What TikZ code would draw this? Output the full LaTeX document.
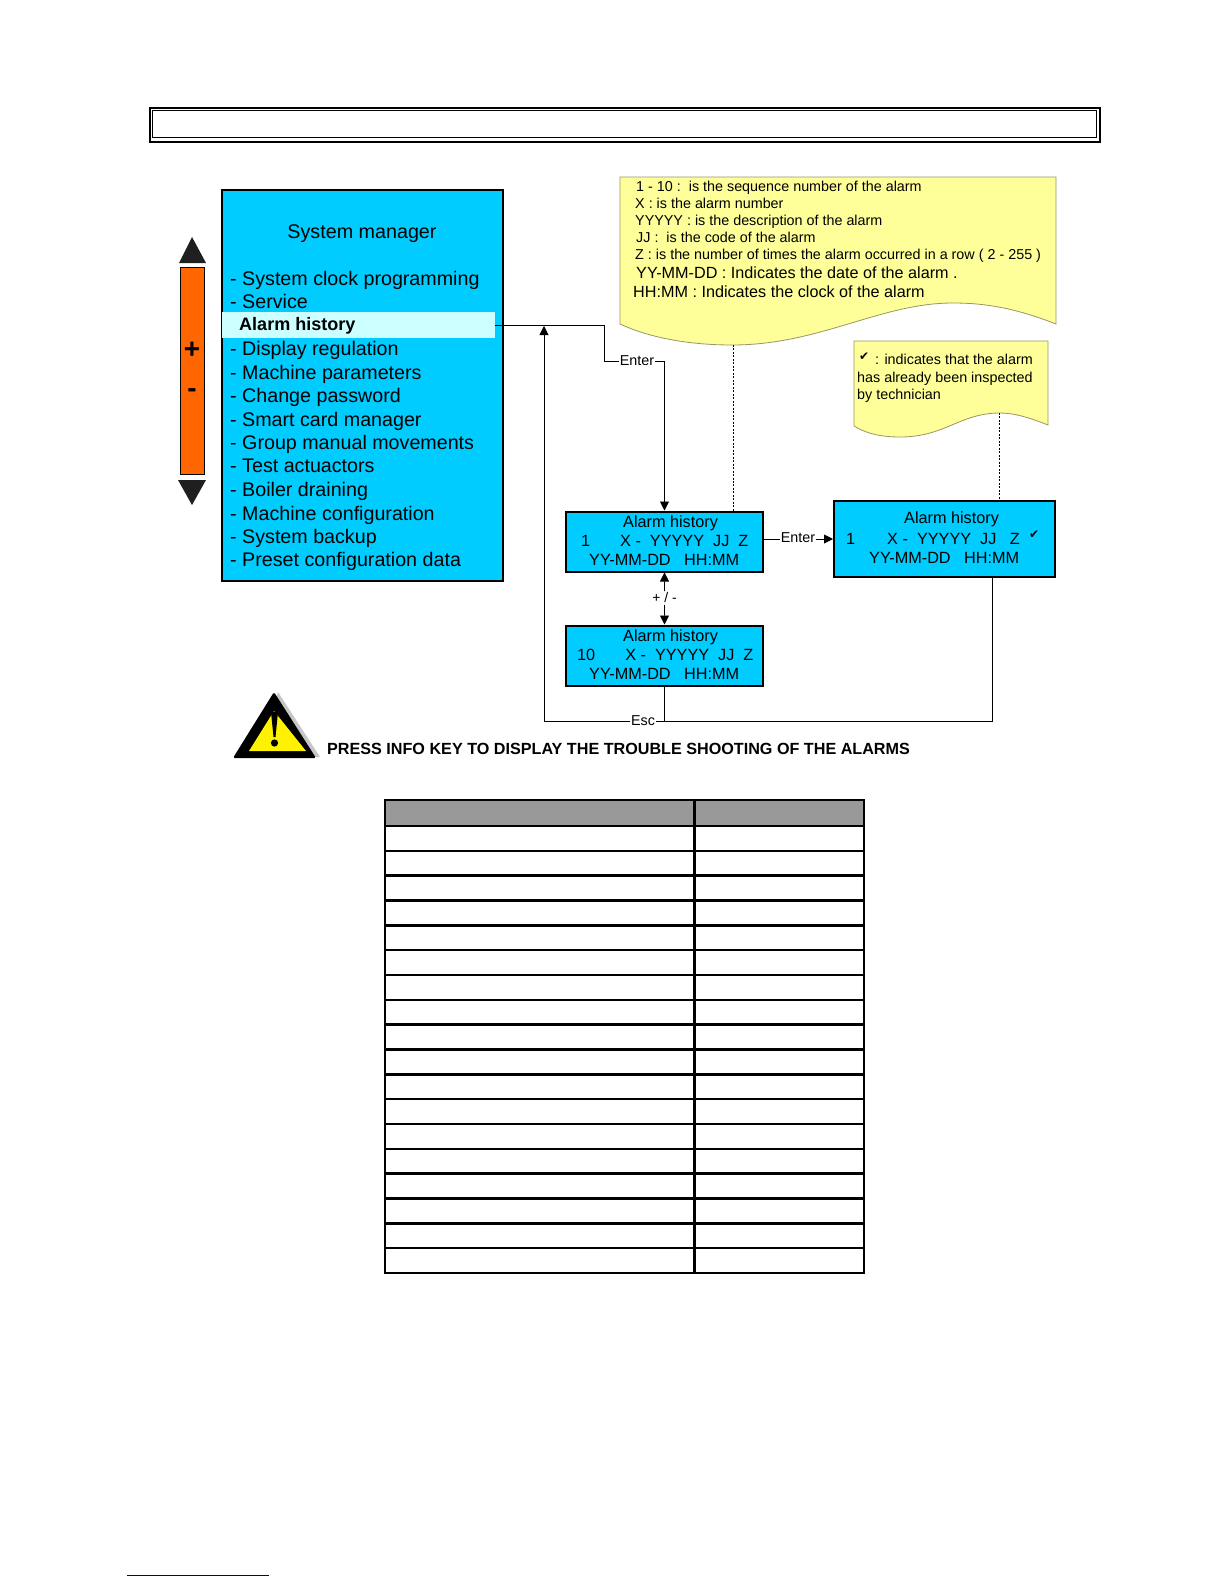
\documentclass[tikz,border=0pt]{standalone}
\usepackage{fontspec}
\setmainfont{Liberation Sans}
\newfontfamily\dingfont{DejaVu Sans}
\usepackage{xcolor}
\usetikzlibrary{arrows.meta, positioning}
\definecolor{lcdBlue}{RGB}{0,204,255}
\definecolor{keyOrange}{RGB}{255,102,0}
\definecolor{noteYellow}{RGB}{255,255,153}
\definecolor{noteEdge}{RGB}{150,150,100}
\definecolor{histPale}{RGB}{204,255,255}
\definecolor{headGray}{RGB}{153,153,153}
\definecolor{linkNavy}{RGB}{0,0,128}
\newcommand{\px}[1]{\fontsize{#1}{#1}\selectfont}
\begin{document}
\begin{tikzpicture}[
    x=1bp, y=-1bp,
    lcd/.style={draw=black, line width=2bp, fill=lcdBlue, inner sep=0pt, anchor=north west},
    menuitem/.style={anchor=west, inner sep=0pt, yshift=-4bp, font=\px{19.75}, text height=0.72em, text depth=0.2em},
    lcdtxt/.style={anchor=west, inner sep=0pt, yshift=-4bp, font=\px{16.3}, text height=0.72em, text depth=0.2em},
    notetxt/.style={anchor=west, inner sep=0pt, yshift=-2.7bp, font=\px{14.4}, text height=0.72em, text depth=0.2em},
    notebig/.style={notetxt, font=\px{16.25}},
    tick/.style={inner sep=0pt, font=\dingfont\px{12}},
    keylbl/.style={inner sep=0.6pt, font=\px{14.4}},
    wire/.style={draw=black, line width=0.9pt},
    tip/.style={-{Triangle[length=9bp, width=9bp]}},
    dots/.style={draw=black, line width=0.9pt, dash pattern=on 2pt off 1.5pt},
    note/.style={draw=noteEdge, line width=0.8pt, fill=noteYellow}
  ]
    \useasboundingbox (0,0) rectangle (1224,1584);
    % title frame
    \node[draw=black, line width=2.2pt, minimum width=950bp, minimum height=34bp, inner sep=0pt, anchor=north west] (titleOut) at (149,107) {};
    \node[draw=black, line width=1pt, minimum width=944bp, minimum height=27bp, inner sep=0pt, anchor=north west] (titleIn) at (152,110) {};

    % key bar
    \node[draw=black, line width=1.4pt, fill=keyOrange, minimum width=24bp, minimum height=207bp, inner sep=0pt, anchor=north west] (keyBar) at (180,267) {};
    \fill[black!88] (192,237) -- (206,263) -- (179,263) -- cycle;
    \fill[black!88] (178,480) -- (206,480) -- (192,505) -- cycle;
    \node[inner sep=0pt, font=\bfseries\px{28}] (keyPlus) at (192,350) {+};
    \node[inner sep=0pt, font=\bfseries\px{28}] (keyMinus) at (192,393) {-};

    % system manager screen
    \node[lcd, minimum width=281bp, minimum height=391bp] (sysBox) at (220.5,188.5) {};
    \node[inner sep=0pt, font=\px{19.8}] (sysHead) at (362,234) {System manager};
    \node[menuitem] (mClock) at (230,279) {- System clock programming};
    \node[menuitem] (mService) at (230,302) {- Service};
    \node[anchor=north west, fill=histPale, minimum width=273bp, minimum height=26bp, inner sep=0pt] (hist) at (222,312) {};
    \node[menuitem, font=\bfseries\px{18.1}] (mHist) at (239,324) {Alarm history};
    \node[menuitem] (mDisplay) at (230,349) {- Display regulation};
    \node[menuitem] (mMachine) at (230,373) {- Machine parameters};
    \node[menuitem] (mPass) at (230,396) {- Change password};
    \node[menuitem] (mCard) at (230,420) {- Smart card manager};
    \node[menuitem] (mGroup) at (230,443) {- Group manual movements};
    \node[menuitem] (mTest) at (230,466) {- Test actuactors};
    \node[menuitem] (mBoiler) at (230,490) {- Boiler draining};
    \node[menuitem] (mConfig) at (230,514) {- Machine configuration};
    \node[menuitem] (mBackup) at (230,537) {- System backup};
    \node[menuitem] (mPreset) at (230,560) {- Preset configuration data};

    % yellow notes
    \draw[note] (620,177) -- (1056,177) -- (1056,324)
      .. controls (1015,308) and (985,303) .. (953,303)
      .. controls (880,303) and (820,345) .. (732,345)
      .. controls (690,345) and (650,338) .. (620,324) -- cycle;
    \coordinate (noteAtail) at (733,345);
    \node[notetxt] (nSeq) at (636,186) {1 - 10 :\ \ is the sequence number of the alarm};
    \node[notetxt] (nNum) at (635,203) {X : is the alarm number};
    \node[notetxt] (nDesc) at (635,220) {YYYYY : is the description of the alarm};
    \node[notetxt] (nCode) at (636,237) {JJ :\ \ is the code of the alarm};
    \node[notetxt] (nTimes) at (635,254) {Z : is the number of times the alarm occurred in a row ( 2 - 255 )};
    \node[notebig] (nDate) at (636,273) {YY-MM-DD : Indicates the date of the alarm .};
    \node[notebig] (nClock) at (633,292) {HH:MM : Indicates the clock of the alarm};

    \draw[note] (854,341) -- (1048,341) -- (1048,425)
      .. controls (1030,418) and (1015,413) .. (1000,413)
      .. controls (960,413) and (945,437) .. (900,437)
      .. controls (880,437) and (865,433) .. (854,426) -- cycle;
    \coordinate (noteBtail) at (999,413);
    \node[tick] (nTick) at (864,357) {✔};
    \node[notetxt] (nInsp) at (875,359) {: indicates that the alarm};
    \node[notetxt] (nAlready) at (857,377) {has already been inspected};
    \node[notetxt] (nTech) at (857,394) {by technician};

    % alarm screens
    \node[lcd, minimum width=197bp, minimum height=60bp] (boxA) at (565,510.5) {};
    \node[lcdtxt] (aHead) at (623,521) {Alarm history};
    \node[lcdtxt] (aLine) at (581,540) {1\hspace{30bp}X - \ YYYYY \ JJ \ Z};
    \node[lcdtxt] (aTime) at (589,559) {YY-MM-DD \ \ HH:MM};

    \node[lcd, minimum width=197bp, minimum height=60bp] (boxB) at (565,624.5) {};
    \node[lcdtxt] (bHead) at (623,635) {Alarm history};
    \node[lcdtxt] (bLine) at (577,654) {10\hspace{30bp}X - \ YYYYY \ JJ \ Z};
    \node[lcdtxt] (bTime) at (589,673) {YY-MM-DD \ \ HH:MM};

    \node[lcd, minimum width=221bp, minimum height=76bp] (boxC) at (833,500) {};
    \node[lcdtxt, yshift=1bp] (cHead) at (904,518) {Alarm history};
    \node[lcdtxt, yshift=1bp] (cLine) at (846,539) {1\hspace{32bp}X - \ YYYYY \ JJ \ \ Z};
    \node[tick] (cTick) at (1034,535) {✔};
    \node[lcdtxt, yshift=1bp] (cTime) at (869,558) {YY-MM-DD \ \ HH:MM};

    % key labels
    \node[keylbl] (enterA) at (637,361) {Enter};
    \node[keylbl] (enterC) at (798,538) {Enter};
    \node[keylbl, font=\px{14}, inner sep=1.5pt] (plusMinus) at (664.5,598) {+ / -};
    \node[keylbl, font=\px{14.4}] (esc) at (643,721) {Esc};
    \coordinate (escTip) at (544,326);
    \coordinate (retC) at (992,576);

    % connectors
    \draw[wire] (hist.east) -- ++(109,0) |- (enterA.west);
    \draw[wire, tip] (enterA.east) -| (boxA.north);
    \draw[wire, tip] (esc.west) -| (escTip);
    \draw[wire] (boxB.south) |- (retC |- esc.east) -- (retC);
    \draw[wire] (esc.east) -- (esc.east -| boxB.south);
    \draw[wire, tip] (plusMinus.north) -- (boxA.south);
    \draw[wire, tip] (plusMinus.south) -- (boxB.north);
    \draw[wire] (boxC.west -| boxA.east) -- (boxC.west -| enterC.west);
    \draw[wire, tip] (boxC.west -| enterC.east) -- (boxC.west);
    \draw[dots] (noteAtail) -- (noteAtail |- boxA.north);
    \draw[dots] (noteBtail) -- (noteBtail |- boxC.north);

    % warning sign
    \fill[black!22] (278,692) -- (320,757) -- (311,757) -- (276,700) -- cycle;
    \fill[black, rounded corners=1.5pt] (274,692) -- (316,758) -- (233,758) -- cycle;
    \fill[yellow] (274,711) -- (306,751) -- (249,751) -- cycle;
    \fill[black] (271,712) -- (278,712) -- (275.5,737) -- (273.5,737) -- cycle;
    \fill[black] (274.5,743) circle (3.6);
    \node[anchor=west, inner sep=0pt, font=\bfseries\px{16.22}] (pressInfo) at (327,749) {PRESS INFO KEY TO DISPLAY THE TROUBLE SHOOTING OF THE ALARMS};

    % empty table
    \fill[headGray] (385,800) rectangle (864,826);
    \foreach \r in {0,...,18} {
      \draw[black, line width=2.6pt] (385,826+\r*24.83) -- (864,826+\r*24.83);
    }
    \draw[black, line width=2.4pt] (385,800) rectangle (864,1273);
    \draw[black, line width=2.6pt] (694.5,800) -- (694.5,1273);

    % footer rule
    \draw[linkNavy, line width=1pt] (127,1575) -- (269,1575);
  \end{tikzpicture}
\end{document}
